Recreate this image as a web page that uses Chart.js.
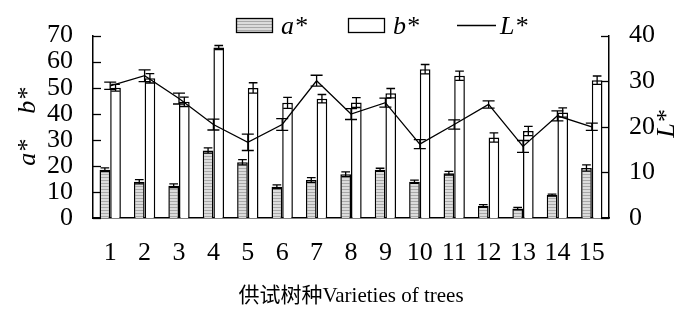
<!DOCTYPE html>
<html>
<head>
<meta charset="utf-8">
<script src="https://cdn.jsdelivr.net/npm/chart.js@4/dist/chart.umd.min.js"></script>
<style>
  html, body { margin: 0; padding: 0; background: #fff; }
  #wrap { width: 700px; height: 319px; }
</style>
</head>
<body>
<div id="wrap"><canvas id="chart" width="700" height="319"></canvas></div>
<script>
// 供试树种 1-15
const labels = ['1', '2', '3', '4', '5', '6', '7', '8', '9', '10', '11', '12', '13', '14', '15'];
const aStar = [18.5, 13.9, 12.4, 25.9, 21.4, 12.0, 14.6, 16.8, 18.5, 13.9, 17.2, 4.6, 3.6, 8.8, 19.2];
const aErr  = [0.7, 0.8, 0.7, 1.0, 1.0, 0.7, 0.9, 0.9, 0.6, 0.6, 0.7, 0.5, 0.5, 0.4, 1.2];
const bStar = [50.0, 53.6, 44.6, 65.4, 49.9, 44.2, 45.8, 44.3, 47.9, 57.1, 54.6, 30.9, 33.4, 40.5, 52.9];
const bErr  = [1.3, 1.8, 1.8, 0.8, 2.0, 2.1, 1.6, 1.9, 1.8, 1.8, 1.8, 1.8, 1.8, 1.8, 1.6];
const lStar = [29.0, 31.2, 26.2, 20.5, 16.6, 20.5, 30.1, 22.8, 25.3, 16.2, 20.5, 24.9, 15.7, 22.4, 20.0];
const lErr  = [0.8, 1.3, 1.2, 1.2, 1.8, 1.3, 1.2, 1.2, 1.0, 1.0, 1.0, 0.8, 1.3, 1.1, 0.8];

const serif = '"Liberation Serif", "Times New Roman", serif';

// 회색 가로줄 무늬
function makeHatch() {
  const c = document.createElement('canvas');
  c.width = 4; c.height = 3;
  const g = c.getContext('2d');
  g.fillStyle = '#dcdcdc';
  g.fillRect(0, 0, 4, 3);
  g.fillStyle = '#a8a8a8';
  g.fillRect(0, 0, 4, 1);
  return g.createPattern(c, 'repeat');
}
const hatch = makeHatch();

// error bars from each dataset's err array
const errorBars = {
  id: 'errorBars',
  afterDatasetsDraw(chart) {
    const ctx = chart.ctx;
    ctx.save();
    ctx.strokeStyle = '#000';
    ctx.lineWidth = 1.3;
    chart.data.datasets.forEach((ds, i) => {
      if (!ds.err) return;
      const meta = chart.getDatasetMeta(i);
      const scale = chart.scales[ds.yAxisID || 'y'];
      meta.data.forEach((el, j) => {
        const v = ds.data[j], e = ds.err[j];
        const x = el.x;
        const yTop = scale.getPixelForValue(v + e);
        const yBot = scale.getPixelForValue(v - e);
        const half = ds.type === 'line' ? 6 : (el.width ? el.width / 2 - 1 : 5);
        ctx.beginPath();
        ctx.moveTo(x, yTop); ctx.lineTo(x, yBot);
        ctx.moveTo(x - half, yTop); ctx.lineTo(x + half, yTop);
        ctx.moveTo(x - half, yBot); ctx.lineTo(x + half, yBot);
        ctx.stroke();
      });
    });
    ctx.restore();
  }
};

// inward tick marks, custom legend, right axis title
const decorations = {
  id: 'decorations',
  afterDraw(chart) {
    const ctx = chart.ctx;
    const area = chart.chartArea;
    ctx.save();
    ctx.strokeStyle = '#000';
    ctx.lineWidth = 1.3;
    const yl = chart.scales.y, yr = chart.scales.y1;
    yl.ticks.forEach(t => {
      const py = Math.round(yl.getPixelForValue(t.value)) + 0.5;
      ctx.beginPath(); ctx.moveTo(area.left, py); ctx.lineTo(area.left + 8, py); ctx.stroke();
    });
    yr.ticks.forEach(t => {
      const py = Math.round(yr.getPixelForValue(t.value)) + 0.5;
      ctx.beginPath(); ctx.moveTo(area.right, py); ctx.lineTo(area.right - 8, py); ctx.stroke();
    });

    // legend
    const ds = chart.data.datasets;
    const slots = [236, 348, 457];
    ctx.font = 'italic 26px ' + serif;
    ctx.textBaseline = 'alphabetic';
    ctx.fillStyle = '#000';
    ds.forEach((d, i) => {
      const x0 = slots[i];
      if (d.type === 'line') {
        ctx.beginPath(); ctx.moveTo(x0, 25.5); ctx.lineTo(x0 + 39, 25.5); ctx.stroke();
        ctx.fillText(d.label, x0 + 43, 34);
      } else {
        ctx.fillStyle = d.backgroundColor;
        ctx.fillRect(x0, 18, 36, 14);
        ctx.strokeRect(x0 + 0.5, 18.5, 36, 14);
        ctx.fillStyle = '#000';
        ctx.fillText(d.label, x0 + 45, 34);
      }
    });

    // right axis title L*
    ctx.translate(667, 124);
    ctx.rotate(-Math.PI / 2);
    ctx.textAlign = 'center';
    ctx.textBaseline = 'middle';
    ctx.fillText('L*', 0, 0);
    ctx.restore();
  }
};

const chart = new Chart(document.getElementById('chart'), {
  data: {
    labels: labels,
    datasets: [
      { type: 'bar', label: 'a*', data: aStar, err: aErr, yAxisID: 'y',
        backgroundColor: hatch, borderColor: '#000', borderWidth: 1.5,
        categoryPercentage: 0.62, barPercentage: 1.0, order: 2 },
      { type: 'bar', label: 'b*', data: bStar, err: bErr, yAxisID: 'y',
        backgroundColor: '#fff', borderColor: '#000', borderWidth: 1.5,
        categoryPercentage: 0.62, barPercentage: 1.0, order: 2 },
      { type: 'line', label: 'L*', data: lStar, err: lErr, yAxisID: 'y1',
        borderColor: '#000', borderWidth: 1.3, pointRadius: 0, tension: 0, fill: false, order: 1 }
    ]
  },
  options: {
    responsive: false,
    animation: false,
    layout: { padding: { top: 30, left: 0, right: 0, bottom: 0 } },
    plugins: { legend: { display: false }, tooltip: { enabled: false } },
    scales: {
      x: {
        grid: { display: false, drawTicks: false },
        border: { color: '#000', width: 1.5 },
        ticks: { color: '#000', font: { family: serif, size: 26 }, padding: 20, maxRotation: 0, autoSkip: false },
        title: { display: true, text: '供试树种Varieties of trees', color: '#000',
                 font: { family: '"Liberation Serif", "Noto Sans CJK SC", serif', size: 21 }, padding: { bottom: 10 } },
        afterFit(s) { s.height = 101; }
      },
      y: {
        position: 'left', min: 0, max: 70,
        grid: { display: false, drawTicks: false },
        border: { color: '#000', width: 1.5 },
        ticks: { stepSize: 10, autoSkip: false, color: '#000', font: { family: serif, size: 26 }, padding: 20 },
        title: { display: true, text: 'a*    b*', color: '#000',
                 font: { family: serif, size: 26, style: 'italic' }, padding: { top: 13 } },
        afterFit(s) { s.width = 93; }
      },
      y1: {
        position: 'right', min: 0, max: 40,
        grid: { display: false, drawTicks: false },
        border: { color: '#000', width: 1.5 },
        ticks: { stepSize: 10, autoSkip: false, color: '#000', font: { family: serif, size: 26 }, padding: 20 },
        afterFit(s) { s.width = 91; }
      }
    }
  },
  plugins: [errorBars, decorations]
});
</script>
</body>
</html>
